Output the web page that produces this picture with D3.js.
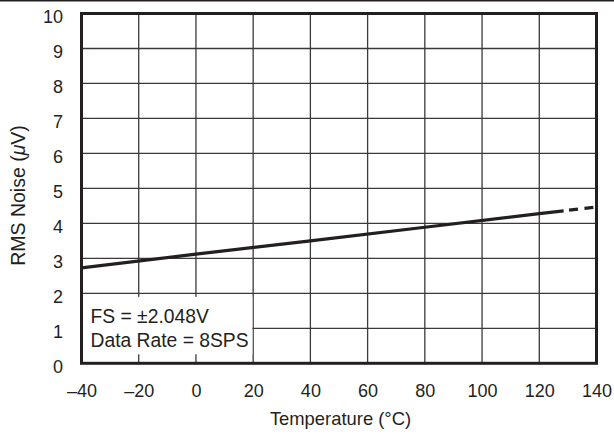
<!DOCTYPE html>
<html>
<head>
<meta charset="utf-8">
<script src="https://cdn.jsdelivr.net/npm/d3@7"></script>
<style>
  html, body { margin: 0; padding: 0; background: #fff; }
  svg { display: block; }
  text { font-family: "Liberation Sans", Arial, Helvetica, sans-serif; fill: #231f20; }
</style>
</head>
<body>
<svg id="chart" width="614" height="434"></svg>
<script>
// RMS noise versus temperature
const xTicks = [-40, -20, 0, 20, 40, 60, 80, 100, 120, 140];
const yTicks = [0, 1, 2, 3, 4, 5, 6, 7, 8, 9, 10];
const measuredTemp = [-40, 0, 40, 80, 120, 128.5];
const measuredNoise = [2.73, 3.12, 3.50, 3.89, 4.28, 4.36];
const extrapTemp = [128.5, 140];
const extrapNoise = [4.36, 4.47];
const noteLines = ["FS = \u00B12.048V", "Data Rate = 8SPS"];

const svg = d3.select("#chart");
const plotL = 81.5, plotR = 596.5, plotT = 13.5, plotB = 363.3;

const x = d3.scaleLinear().domain([-40, 140]).range([plotL, plotR]);
const y = d3.scaleLinear().domain([0, 10]).range([plotB, plotT]);

// rule along the top edge of the page
svg.append("line")
  .attr("x1", 0).attr("x2", 614).attr("y1", 0.8).attr("y2", 0.8)
  .attr("stroke", "#231f20").attr("stroke-width", 1.6);

// grid
const grid = svg.append("g").attr("stroke", "#3a3a3a").attr("stroke-width", 1.3);
grid.selectAll(".vg").data(xTicks.slice(1, -1)).join("line")
  .attr("x1", d => x(d)).attr("x2", d => x(d))
  .attr("y1", plotT).attr("y2", plotB);
grid.selectAll(".hg").data(yTicks.slice(1, -1)).join("line")
  .attr("x1", plotL).attr("x2", plotR)
  .attr("y1", d => y(d)).attr("y2", d => y(d));

// annotation panel
svg.append("rect")
  .attr("x", x(-40)).attr("y", y(2) + 3.5)
  .attr("width", x(20) - x(-40) - 0.8)
  .attr("height", (y(0) - 9) - (y(2) + 3.5))
  .attr("fill", "#fff");
svg.append("g").selectAll("text").data(noteLines).join("text")
  .attr("x", x(-40) + 9)
  .attr("y", (d, i) => 323.3 + i * 23.4)
  .attr("font-size", 19.3)
  .text(d => d);

// curve
const line = d3.line().x(d => x(d[0])).y(d => y(d[1]));
svg.append("path")
  .datum(d3.zip(measuredTemp, measuredNoise))
  .attr("d", line)
  .attr("fill", "none").attr("stroke", "#231f20").attr("stroke-width", 3.2);
svg.append("path")
  .datum(d3.zip(extrapTemp, extrapNoise))
  .attr("d", line)
  .attr("fill", "none").attr("stroke", "#231f20").attr("stroke-width", 3.2)
  .attr("stroke-dasharray", "9,6.5").attr("stroke-dashoffset", 10);

// frame
svg.append("rect")
  .attr("x", plotL).attr("y", plotT)
  .attr("width", plotR - plotL).attr("height", plotB - plotT)
  .attr("fill", "none").attr("stroke", "#231f20").attr("stroke-width", 3);

// axes
const xAxis = svg.append("g").attr("transform", `translate(0,${plotB})`)
  .call(d3.axisBottom(x).tickValues(xTicks).tickSize(0).tickPadding(0)
    .tickFormat(d => d < 0 ? "\u2013" + Math.abs(d) : d));
xAxis.select(".domain").remove();
xAxis.selectAll("text").attr("font-size", 18).attr("dy", null).attr("y", 33.4);

const yAxis = svg.append("g").attr("transform", `translate(${plotL},0)`)
  .call(d3.axisLeft(y).tickValues(yTicks).tickSize(0).tickPadding(18.5));
yAxis.select(".domain").remove();
yAxis.selectAll("text").attr("font-size", 18).attr("dy", "0.52em");

svg.selectAll(".tick text").attr("fill", "#231f20")
  .style("font-family", "'Liberation Sans', Arial, Helvetica, sans-serif");

// axis titles
svg.append("text")
  .attr("x", (plotL + plotR) / 2 + 1.5).attr("y", 425)
  .attr("text-anchor", "middle").attr("font-size", 18.4)
  .text("Temperature (\u00B0C)");

const yt = svg.append("text")
  .attr("transform", `translate(24.5,195.5) rotate(-90)`)
  .attr("text-anchor", "middle").attr("font-size", 19.5);
yt.append("tspan").text("RMS Noise (");
yt.append("tspan").attr("font-style", "italic").text("\u03BC");
yt.append("tspan").text("V)");
</script>
</body>
</html>
